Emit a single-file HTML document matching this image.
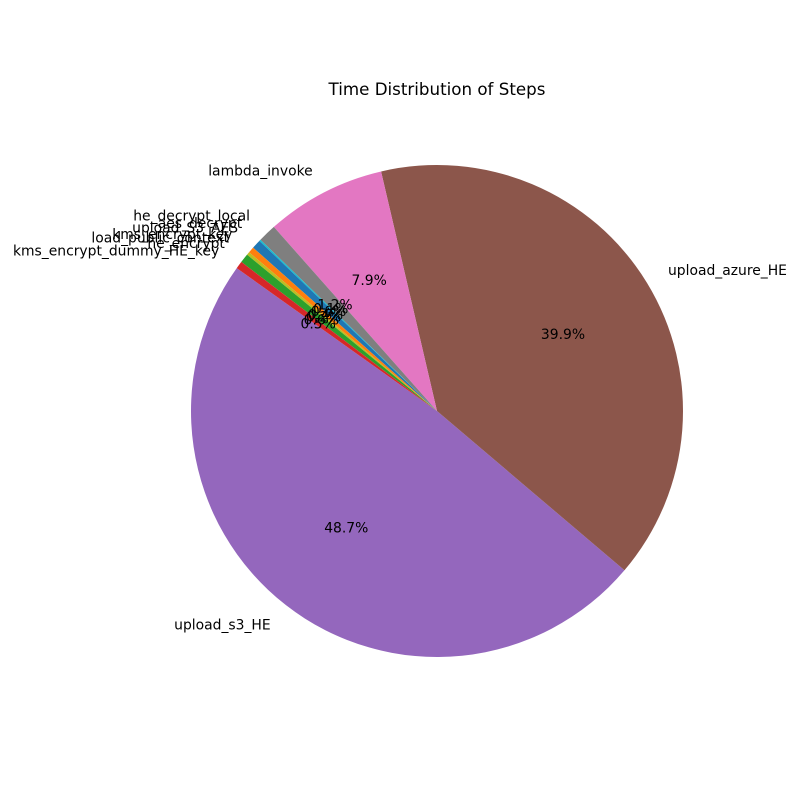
<!DOCTYPE html>
<html><head><meta charset="utf-8"><style>
html,body{margin:0;padding:0;background:#fff}
svg{display:block;font-family:"DejaVu Sans","Liberation Sans",sans-serif}
</style></head><body>
<svg id="chart" width="800" height="800">
<rect width="800" height="800" fill="#fff"/>
<text x="437" y="95" text-anchor="middle" font-size="16.7">Time Distribution of Steps</text>
<g id="slices"></g>
<g id="labels"></g>
</svg>
<script>
const categories = ["upload_s3_HE","upload_azure_HE","lambda_invoke","he_decrypt_local","aes_decrypt","upload_S3_AES","kms_encrypt_key","load_public_context","he_encrypt","kms_encrypt_dummy_HE_key"];
const values = [48.7,39.9,7.9,1.2,0.1,0.6,0.4,0.2,0.6,0.5];
const colors = ["#9467bd","#8c564b","#e377c2","#7f7f7f","#17becf","#1f77b4","#ff7f0e","#bcbd22","#2ca02c","#d62728"];
const startAngle = 144.5;
const cx=437, cy=411, R=246;
const NS="http://www.w3.org/2000/svg";
const total = values.reduce((a,b)=>a+b,0);
const gS=document.getElementById('slices'), gL=document.getElementById('labels');
function pt(a,r){const t=a*Math.PI/180;return [cx+r*Math.cos(t), cy-r*Math.sin(t)];}
let a0=startAngle;
values.forEach((v,i)=>{
  const sweep=v/total*360, a1=a0+sweep;
  const p0=pt(a0,R), p1=pt(a1,R);
  const path=document.createElementNS(NS,'path');
  path.setAttribute('d',`M${cx},${cy} L${p0[0]},${p0[1]} A${R},${R} 0 ${sweep>180?1:0} 0 ${p1[0]},${p1[1]} Z`);
  path.setAttribute('fill',colors[i]);
  
  
  gS.appendChild(path);
  const mid=(a0+a1)/2;
  const lp=pt(mid,R*1.1);
  const t=document.createElementNS(NS,'text');
  const c=Math.cos(mid*Math.PI/180);
  t.setAttribute('x',lp[0]);t.setAttribute('y',lp[1]+5);
  t.setAttribute('font-size','13.9');
  t.setAttribute('text-anchor',c<0?'end':'start');
  t.textContent=categories[i];
  
  
  gL.appendChild(t);
  const pp=pt(mid,R*0.6);
  const p=document.createElementNS(NS,'text');
  p.setAttribute('x',pp[0]);p.setAttribute('y',pp[1]+5);
  p.setAttribute('font-size','13.9');
  p.setAttribute('text-anchor','middle');
  p.textContent=v.toFixed(1)+'%';
  
  
  gL.appendChild(p);
  a0=a1;
});
</script>
</body></html>
